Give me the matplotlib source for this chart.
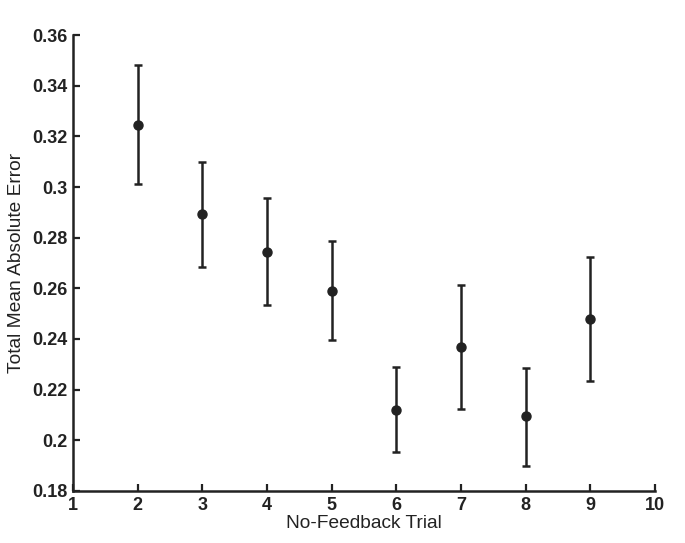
import matplotlib
matplotlib.use('Agg')
import matplotlib.pyplot as plt
import numpy as np

# No-feedback trials and error summary
trials = [2, 3, 4, 5, 6, 7, 8, 9]
mean_err = [0.3245, 0.2895, 0.2745, 0.2590, 0.2120, 0.2370, 0.2095, 0.2480]
upper = [0.3480, 0.3100, 0.2955, 0.2785, 0.2290, 0.2615, 0.2285, 0.2725]
lower = [0.3010, 0.2685, 0.2535, 0.2395, 0.1955, 0.2125, 0.1900, 0.2235]

x_ticks = list(range(1, 11))
y_ticks = [0.18, 0.2, 0.22, 0.24, 0.26, 0.28, 0.3, 0.32, 0.34, 0.36]
y_tick_labels = ['0.18', '0.2', '0.22', '0.24', '0.26', '0.28', '0.3', '0.32', '0.34', '0.36']

plt.rcParams['font.family'] = ['Liberation Sans', 'DejaVu Sans']
ink = '#222222'

fig = plt.figure(figsize=(6.85, 5.43), dpi=100)
ax = fig.add_axes([0.1066, 0.0958, 0.8494, 0.8397])

mean_arr = np.array(mean_err)
yerr = [mean_arr - np.array(lower), np.array(upper) - mean_arr]
ax.errorbar(trials, mean_err, yerr=yerr, fmt='o', color=ink, ecolor=ink,
            markersize=6.5, elinewidth=1.8, capsize=3.2, capthick=1.8)

ax.set_xlim(1, 10)
ax.set_ylim(0.18, 0.36)
ax.set_xticks(x_ticks)
ax.set_yticks(y_ticks)
ax.set_yticklabels(y_tick_labels)

for side in ['top', 'right']:
    ax.spines[side].set_visible(False)
for side in ['left', 'bottom']:
    ax.spines[side].set_linewidth(1.8)
    ax.spines[side].set_color(ink)

ax.tick_params(axis='both', direction='in', length=5, width=1.6, colors=ink,
               labelsize=13)
ax.tick_params(axis='x', pad=4)
ax.tick_params(axis='y', pad=4)
for lbl in ax.get_xticklabels() + ax.get_yticklabels():
    lbl.set_fontweight('bold')

ax.set_xlabel('No-Feedback Trial', fontsize=13.8, color=ink, labelpad=1)
ax.set_ylabel('Total Mean Absolute Error', fontsize=13.8, color=ink, labelpad=5)

fig.savefig('out.png', dpi=100)
